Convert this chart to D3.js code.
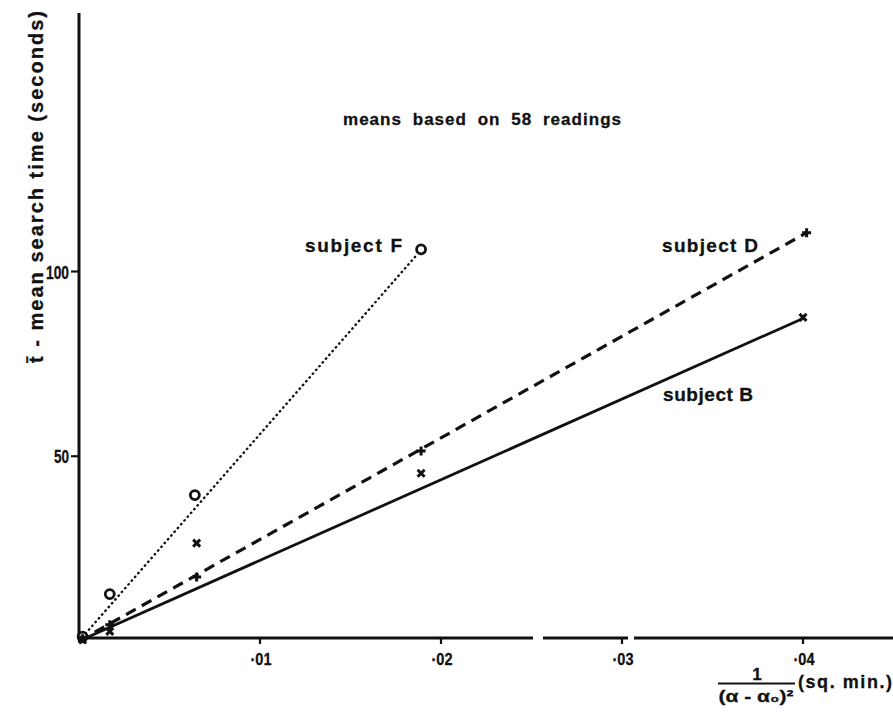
<!DOCTYPE html>
<html>
<head>
<meta charset="utf-8">
<script src="https://cdn.jsdelivr.net/npm/d3@7"></script>
<style>
  html, body { margin: 0; padding: 0; background: #fff; }
  svg text { font-family: "Liberation Sans", Arial, sans-serif; font-weight: bold; fill: #111;
             stroke: #111; stroke-width: 0.3; }
</style>
</head>
<body>
<svg id="chart" width="893" height="721"></svg>
<script>
// Mean search time against 1/(α − α0)² for three subjects
const xTicks = [0.01, 0.02, 0.03, 0.04];
const xTickLabels = ["·01", "·02", "·03", "·04"];
const yTicks = [50, 100];
const yTickLabels = ["50", "100"];

// observed means (x = 1/(α−α0)², y = mean search time in s)
const subjectF = [[0.0002, 1.2], [0.0017, 12.7], [0.0064, 39.5], [0.0189, 106]];
const subjectD = [[0.0002, 0.6], [0.0017, 4.4], [0.0065, 17.3], [0.0189, 51.4], [0.0402, 110.5]];
const subjectB = [[0.0002, 0.3], [0.0017, 2.6], [0.0065, 26.5], [0.0189, 45.4], [0.0400, 87.6]];

// fitted straight lines through the origin
const fitF = [[0, 0], [0.0187, 104.7]];
const fitD = [[0, 0], [0.0402, 110.5]];
const fitB = [[0, 0], [0.0400, 87.3]];

const svg = d3.select("#chart");
const x = d3.scaleLinear().domain([0, 0.04]).range([79, 803]);
const y = d3.scaleLinear().domain([0, 100]).range([641, 271.5]);
const x0 = 79, yBase = 638;

// bold text helper, optionally fitted to a set width
function label(px, py, str, size, len, anchor, adjust) {
  const t = svg.append("text").attr("x", px).attr("y", py).attr("font-size", size)
    .attr("text-anchor", anchor || "start").text(str);
  if (len) t.attr("textLength", len).attr("lengthAdjust", adjust || "spacingAndGlyphs");
  return t;
}

// axes (the baseline has two small breaks)
svg.append("line").attr("x1", x0).attr("x2", x0).attr("y1", 13).attr("y2", yBase + 1.5)
  .attr("stroke", "#111").attr("stroke-width", 3);
[[x0, 533], [543, 628], [634, 893]].forEach(s => {
  svg.append("line").attr("x1", s[0]).attr("x2", s[1]).attr("y1", yBase).attr("y2", yBase)
    .attr("stroke", "#111").attr("stroke-width", 2.8);
});

xTicks.forEach((t, i) => {
  svg.append("line").attr("x1", x(t)).attr("x2", x(t)).attr("y1", yBase).attr("y2", yBase + 6)
    .attr("stroke", "#111").attr("stroke-width", 2.2);
  label(x(t) + 1, 665, xTickLabels[i], 17, 21, "middle");
});
yTicks.forEach((t, i) => {
  svg.append("line").attr("x1", x0 - 8).attr("x2", x0).attr("y1", y(t)).attr("y2", y(t))
    .attr("stroke", "#111").attr("stroke-width", 2.2);
  label(x0 - 10, y(t) + 7, yTickLabels[i], 18, t >= 100 ? 23 : 15, "end");
});

// fitted lines
const line = d3.line().x(d => x(d[0])).y(d => y(d[1]));
svg.append("path").datum(fitF).attr("d", line).attr("fill", "none").attr("stroke", "#111")
  .attr("stroke-width", 2.4).attr("stroke-linecap", "round").attr("stroke-dasharray", "0.5,4.5");
svg.append("path").datum(fitD).attr("d", line).attr("fill", "none").attr("stroke", "#111")
  .attr("stroke-width", 3.2).attr("stroke-dasharray", "11,7");
svg.append("path").datum(fitB).attr("d", line).attr("fill", "none").attr("stroke", "#111")
  .attr("stroke-width", 2.8);

// markers
svg.selectAll(".mF").data(subjectF).join("circle").attr("class", "mF")
  .attr("cx", d => x(d[0])).attr("cy", d => y(d[1])).attr("r", 4.5)
  .attr("fill", "#fff").attr("stroke", "#111").attr("stroke-width", 2.8);
svg.selectAll(".mD").data(subjectD).join("path").attr("class", "mD")
  .attr("transform", d => `translate(${x(d[0])},${y(d[1])})`)
  .attr("d", "M-4.5,0H4.5M0,-4.5V4.5").attr("stroke", "#111").attr("stroke-width", 3);
svg.selectAll(".mB").data(subjectB).join("path").attr("class", "mB")
  .attr("transform", d => `translate(${x(d[0])},${y(d[1])})`)
  .attr("d", "M-3.5,-3.5L3.5,3.5M-3.5,3.5L3.5,-3.5").attr("stroke", "#111").attr("stroke-width", 3);

// labels
label(343, 125, "means based on 58 readings", 17, 278, "start", "spacing").attr("word-spacing", 5);
label(305, 252, "subject F", 19, 97, "start", "spacing");
label(662, 252, "subject D", 19, 96, "start", "spacing");
label(663, 401, "subject B", 19, 90, "start", "spacing");

// y-axis title
svg.append("text").attr("transform", "translate(43,187) rotate(-90)")
  .attr("text-anchor", "middle").attr("font-size", 20)
  .attr("textLength", 352).attr("lengthAdjust", "spacing")
  .text("t\u0304 - mean search time (seconds)");

// x-axis title: 1/(α − α0)²  (sq. min.)
label(757, 680, "1", 17, null, "middle");
svg.append("line").attr("x1", 718).attr("x2", 795).attr("y1", 683.5).attr("y2", 683.5)
  .attr("stroke", "#111").attr("stroke-width", 2);
label(756, 702, "(α - α\u2080)\u00B2", 17, 75, "middle");
label(798, 688, "(sq. min.)", 18, 94, "start", "spacing");
</script>
</body>
</html>
